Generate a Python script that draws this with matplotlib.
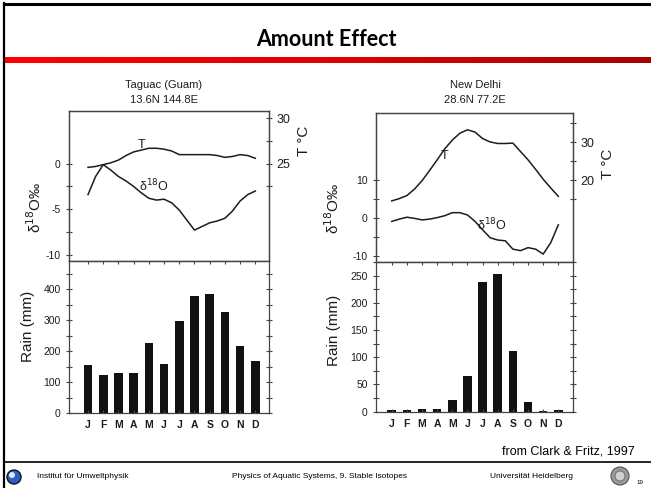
import numpy as np
import matplotlib.pyplot as plt
from matplotlib.patches import Circle
from matplotlib.ticker import FixedLocator, MultipleLocator

plt.rcParams["font.family"] = ["Liberation Sans", "DejaVu Sans"]
plt.rcParams["axes.unicode_minus"] = False

W, H = 651, 488

months = ["J", "F", "M", "A", "M", "J", "J", "A", "S", "O", "N", "D"]
half_months = np.arange(23) / 2.0

# Taguac (Guam), 13.6N 144.8E
guam_temp = [24.6, 24.7, 24.9, 25.1, 25.4, 25.9, 26.3, 26.5, 26.7, 26.7, 26.6, 26.4,
             26.0, 26.0, 26.0, 26.0, 26.0, 25.9, 25.7, 25.8, 26.0, 25.9, 25.6]
guam_d18o = [-3.4, -1.4, -0.1, -0.7, -1.4, -1.9, -2.5, -3.2, -3.8, -4.0, -3.9, -4.3,
             -5.1, -6.2, -7.3, -6.9, -6.5, -6.3, -6.0, -5.2, -4.1, -3.4, -3.0]
guam_rain = [156, 123, 131, 131, 226, 160, 297, 379, 386, 327, 218, 170]

# New Delhi, 28.6N 77.2E
delhi_temp = [14.6, 15.2, 16.0, 17.7, 19.9, 22.6, 25.4, 28.3, 30.6, 32.4, 33.3, 32.7,
              31.0, 30.1, 29.7, 29.7, 29.8, 27.6, 25.4, 22.9, 20.3, 18.0, 15.8]
delhi_d18o = [-0.8, -0.2, 0.3, 0.0, -0.4, -0.2, 0.2, 0.7, 1.5, 1.5, 0.9, -0.8,
              -3.0, -5.1, -5.7, -5.9, -8.1, -8.5, -7.7, -8.1, -9.4, -6.4, -1.7]
delhi_rain = [3, 4, 5, 5, 21, 65, 238, 254, 112, 17, 2, 4]

INK = "#1c1c1c"


def box(x0, y0, x1, y1):
    return [x0 / W, 1 - y1 / H, (x1 - x0) / W, (y1 - y0) / H]


def style_axis(ax):
    for s in ax.spines.values():
        s.set_color("#444444")
        s.set_linewidth(0.9)
    ax.tick_params(direction="inout", length=5, width=0.8, colors="#444444",
                   labelcolor=INK, labelsize=7.5)


def station(x0, x1, y_top, y_mid, y_bot, xlim, d_lim, t_off, d_major, d_minor,
            t_major, t_minor, temp, d18o, rain, r_max, r_major, r_minor,
            t_pos, d_pos):
    top = fig.add_axes(box(x0, y_top, x1, y_mid))
    bot = fig.add_axes(box(x0, y_mid, x1, y_bot))

    top.plot(half_months, d18o, color=INK, lw=1.1)
    top.set_xlim(*xlim)
    top.set_ylim(*d_lim)
    top.yaxis.set_major_locator(FixedLocator(d_major))
    top.yaxis.set_minor_locator(FixedLocator(d_minor))
    top.set_xticks([])
    style_axis(top)
    top.tick_params(which="minor", direction="inout", length=5, width=0.8, colors="#444444")

    tw = top.twinx()
    tw.plot(half_months, temp, color=INK, lw=1.1)
    tw.set_ylim(d_lim[0] + t_off, d_lim[1] + t_off)
    tw.yaxis.set_major_locator(FixedLocator(t_major))
    tw.yaxis.set_minor_locator(FixedLocator(t_minor))
    style_axis(tw)
    tw.tick_params(which="minor", direction="inout", length=5, width=0.8, colors="#444444")
    tw.tick_params(labelsize=9, pad=3)

    tw.text(t_pos[0], t_pos[1], "T", fontsize=9, color=INK, ha="center", va="center")
    top.text(d_pos[0], d_pos[1], "δ$^{18}$O", fontsize=9, color=INK, ha="center", va="center")

    x = np.arange(len(rain))
    bot.bar(x, rain, width=0.57, color="#111111")
    bot.set_xlim(*xlim)
    bot.set_ylim(0, r_max)
    bot.yaxis.set_major_locator(MultipleLocator(r_major))
    bot.yaxis.set_minor_locator(MultipleLocator(r_minor))
    bot.set_xticks(x)
    bot.set_xticklabels(months, fontweight="bold", fontsize=7)
    style_axis(bot)
    bot.tick_params(axis="x", direction="in", length=2, pad=5, top=True)
    bot.tick_params(axis="y", which="both", right=True, direction="inout", length=5,
                    width=0.8, colors="#444444", labelcolor=INK)
    return top, bot


fig = plt.figure(figsize=(W / 100, H / 100), dpi=100)

# slide frame, title bar and footer rule
fig.add_artist(plt.Line2D([4 / W, 4 / W], [0, 1 - 3 / H], color="black", lw=1.6))
fig.add_artist(plt.Line2D([4 / W, 1], [1 - 4 / H, 1 - 4 / H], color="black", lw=2.2))
fig.add_artist(plt.Line2D([4 / W, 1], [1 - 462 / H, 1 - 462 / H], color="black", lw=1.2))
bar_ax = fig.add_axes(box(5, 57, W, 63))
bar_ax.imshow(np.linspace(0, 1, 256)[None, :], aspect="auto",
              cmap=plt.matplotlib.colors.LinearSegmentedColormap.from_list(
                  "rb", ["#ff0000", "#e00000", "#a80000"]))
bar_ax.axis("off")

fig.text(326 / W, 1 - 40 / H, "Amount Effect", fontsize=15.5, fontweight="bold",
         family="Lato", ha="center", va="center", color="black")

# Guam
station(69, 269, 111, 261, 413.3, (-1.25, 11.9), (-10.7, 5.8), 25.0,
        [0, -5, -10], [-2.5, -7.5], [25, 30], [22.5, 27.5],
        guam_temp, guam_d18o, guam_rain, 491, 100, 50,
        (3.55, 27.1), (4.3, -2.5))
fig.text(164 / W, 1 - 85 / H, "Taguac (Guam)", fontsize=8, ha="center", va="center", color=INK)
fig.text(164 / W, 1 - 100 / H, "13.6N 144.8E", fontsize=8, ha="center", va="center", color=INK)
fig.text(35 / W, 1 - 207 / H, "δ$^{18}$O‰", fontsize=11, rotation=90, ha="center", va="center", color=INK)
fig.text(28 / W, 1 - 326 / H, "Rain (mm)", fontsize=11, rotation=90, ha="center", va="center", color=INK)
fig.text(304 / W, 1 - 141 / H, "T °C", fontsize=11, rotation=90, ha="center", va="center", color=INK)

# New Delhi
station(376, 573, 112.7, 261.7, 411.7, (-1.04, 11.97), (-11.4, 27.8), 10.0,
        [-10, 0, 10], [-5, 5], [20, 30], [15, 25, 35],
        delhi_temp, delhi_d18o, delhi_rain, 275.7, 50, 25,
        (3.5, 26.3), (6.6, -1.7))
fig.text(475 / W, 1 - 85 / H, "New Delhi", fontsize=8, ha="center", va="center", color=INK)
fig.text(475 / W, 1 - 100 / H, "28.6N 77.2E", fontsize=8, ha="center", va="center", color=INK)
fig.text(333 / W, 1 - 208 / H, "δ$^{18}$O‰", fontsize=11, rotation=90, ha="center", va="center", color=INK)
fig.text(334 / W, 1 - 330 / H, "Rain (mm)", fontsize=11, rotation=90, ha="center", va="center", color=INK)
fig.text(608 / W, 1 - 164 / H, "T °C", fontsize=11, rotation=90, ha="center", va="center", color=INK)

fig.text(635 / W, 1 - 452 / H, "from Clark & Fritz, 1997", fontsize=9, ha="right", va="center", color="black")

# footer
fig.text(37 / W, 1 - 477 / H, "Institut für Umweltphysik", fontsize=6, ha="left", va="center")
fig.text(320 / W, 1 - 477 / H, "Physics of Aquatic Systems, 9. Stable Isotopes", fontsize=6,
         ha="center", va="center")
fig.text(573 / W, 1 - 477 / H, "Universität Heidelberg", fontsize=6, ha="right", va="center")
fig.text(636 / W, 1 - 483 / H, "19", fontsize=4.5, ha="left", va="center")

logo_ax = fig.add_axes([0, 0, 1, 1], zorder=-1)
logo_ax.set_xlim(0, W)
logo_ax.set_ylim(H, 0)
logo_ax.axis("off")
logo_ax.add_patch(Circle((14, 477), 7, facecolor="#2a5fc8", edgecolor="#111111", lw=1))
logo_ax.add_patch(Circle((12, 475), 3, facecolor="#dfe8ff", edgecolor="none"))
logo_ax.add_patch(Circle((620, 476), 9, facecolor="#9a9a9a", edgecolor="#555555", lw=0.8))
logo_ax.add_patch(Circle((620, 476), 5, facecolor="#cfcfcf", edgecolor="#666666", lw=0.6))

fig.savefig("out.png", dpi=100)
